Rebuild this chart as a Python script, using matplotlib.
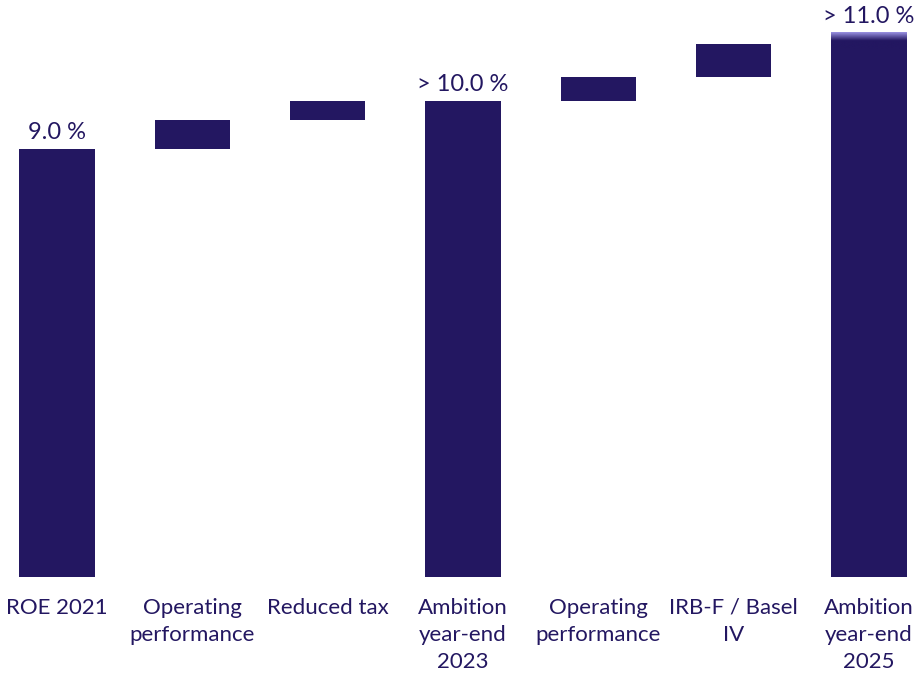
import numpy as np
import matplotlib.pyplot as plt
from matplotlib.colors import LinearSegmentedColormap

categories = ['ROE 2021', 'Operating\nperformance', 'Reduced tax', 'Ambition\nyear-end\n2023',
              'Operating\nperformance', 'IRB-F / Basel\nIV', 'Ambition\nyear-end\n2025']
steps = [9.0, 0.6, 0.4, 10.0, 0.5, 0.7, 11.2]
is_total = [True, False, False, True, False, False, True]
total_labels = ['9.0 %', '> 10.0 %', '> 11.0 %']

navy = '#231761'
plt.rcParams['font.family'] = ['Lato', 'DejaVu Sans']

fig = plt.figure(figsize=(9.2, 6.78), dpi=100)
ax = fig.add_axes([0, 0.149, 1, 0.851])

x = np.arange(len(categories))
bottoms, heights = [], []
level = 0
for v, tot in zip(steps, is_total):
    if tot:
        bottoms.append(0)
        heights.append(v)
        level = v
    else:
        bottoms.append(level)
        heights.append(v)
        level += v

w = 0.555
ax.bar(x, heights, bottom=bottoms, width=w, color=navy, edgecolor='none', zorder=2)

# faded top on the last bar ("> 11.0 %")
grad = LinearSegmentedColormap.from_list('g', [navy, navy, '#9a92e2'])
last = len(categories) - 1
top = bottoms[last] + heights[last]
ax.imshow(np.linspace(0, 1, 100).reshape(-1, 1), cmap=grad, origin='lower', aspect='auto',
          extent=[x[last] - w / 2, x[last] + w / 2, top - 0.1, top + 0.24], zorder=3)

ti = [i for i, t in enumerate(is_total) if t]
for i, lab in zip(ti, total_labels):
    h = heights[i] + (0.24 if i == last else 0)
    ax.text(x[i], h + 0.12, lab, ha='center', va='bottom', fontsize=17, color=navy)

ax.set_xlim(-0.421, 6.377)
ax.set_ylim(0, 12.12)
ax.set_xticks(x)
ax.set_xticklabels(categories, fontsize=16, color=navy, linespacing=1.45)
ax.tick_params(axis='x', length=0, pad=15)
ax.set_yticks([])
for s in ax.spines.values():
    s.set_visible(False)

fig.savefig('out.png', dpi=100)
